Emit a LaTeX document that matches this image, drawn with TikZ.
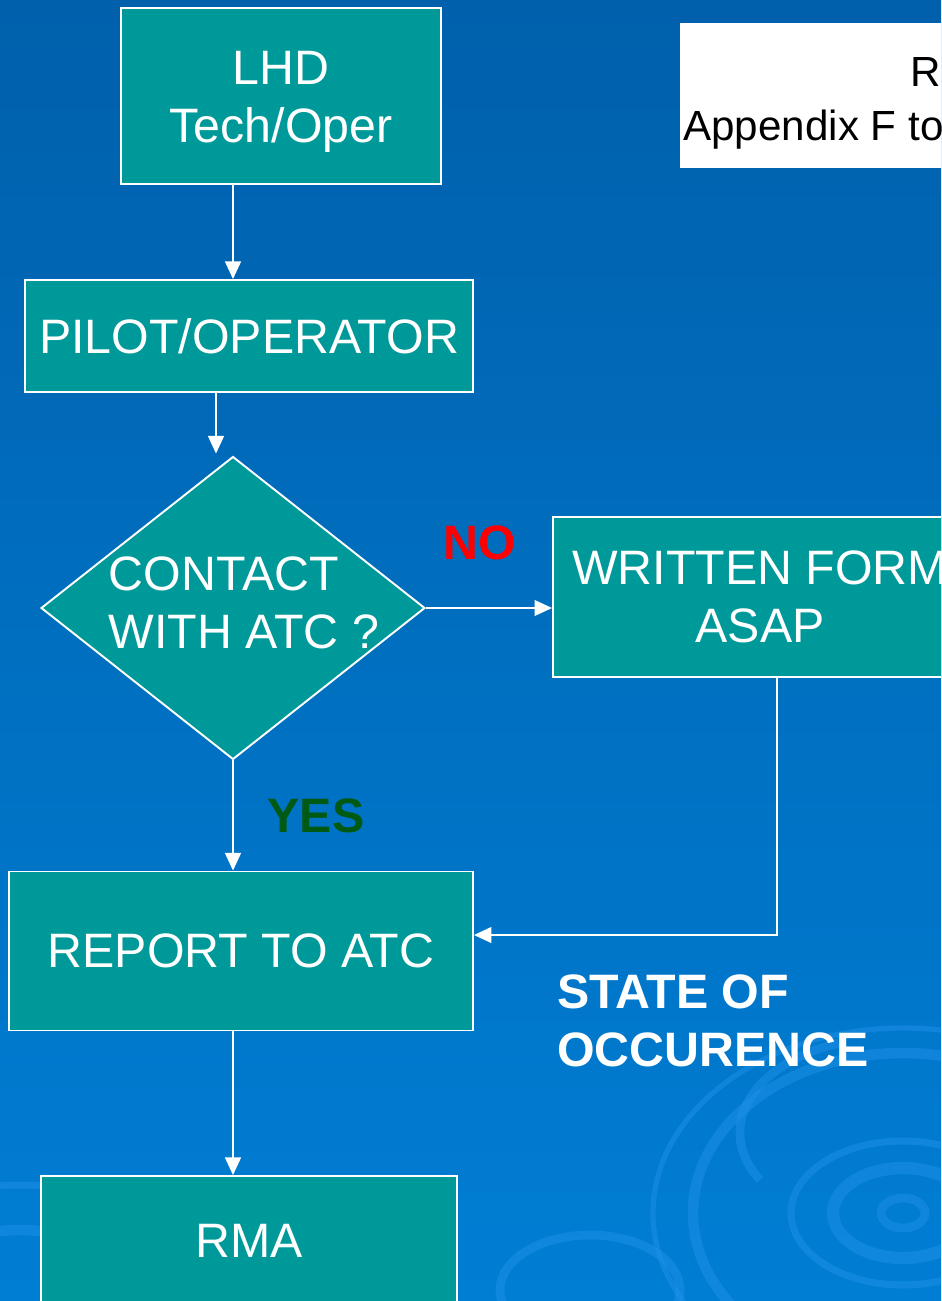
\documentclass[tikz,border=0pt]{standalone}
\usepackage{fontspec}
\setmainfont{Liberation Sans}
\usetikzlibrary{shapes.geometric, arrows.meta, positioning, calc}

\definecolor{boxteal}{RGB}{0,153,153}
\definecolor{bgtop}{RGB}{0,96,172}
\definecolor{bgbottom}{RGB}{0,126,212}
\definecolor{ring}{RGB}{30,145,232}
\definecolor{yesgreen}{RGB}{0,90,20}

\begin{document}
\begin{tikzpicture}[
    x=0.02cm, y=-0.02cm,
    box/.style      ={rectangle, draw=white, line width=1.1pt, fill=boxteal, text=white, align=center, inner sep=0pt, font=\fontsize{27.5}{33}\selectfont},
    decision/.style ={diamond, draw=white, line width=1.1pt, fill=boxteal, inner sep=0pt},
    note/.style     ={rectangle, fill=white, inner sep=0pt},
    answer/.style   ={inner sep=0pt, font=\bfseries\fontsize{27.5}{33}\selectfont},
    arrow/.style    ={-{Triangle[length=10pt,width=9pt]}, white, line width=1.1pt},
    swirl/.style    ={ring, opacity=0.5},
    ]

    % --- Background ---
    \useasboundingbox (0,0) rectangle (941,1301);
    \clip (0,0) rectangle (941,1301);
    \shade[top color=bgtop, bottom color=bgbottom] (0,0) rectangle (941,1301);
    \draw[swirl, line width=5pt] (903,1213) ellipse [x radius=22, y radius=15];
    \draw[swirl, line width=7pt] (903,1213) ellipse [x radius=70, y radius=45];
    \draw[swirl, line width=4pt] (903,1213) ellipse [x radius=112, y radius=72];
    \draw[swirl, line width=5pt] (760,1180) arc [start angle=150, end angle=250, x radius=150, y radius=95];
    \draw[swirl, line width=6pt] (903,1213) ellipse [x radius=210, y radius=160];
    \draw[swirl, line width=3pt] (903,1213) ellipse [x radius=250, y radius=185];
    \draw[swirl, line width=6pt] (20,1300) ellipse [x radius=110, y radius=70];
    \draw[swirl, line width=4pt] (20,1300) ellipse [x radius=180, y radius=115];
    \draw[swirl, line width=5pt] (590,1290) ellipse [x radius=90, y radius=55];

    % --- Reference note (cut by the page edge) ---
    \node[note, anchor=north west, minimum width=9cm, minimum height=2.9cm] (ref) at (680,23) {};
    \node[anchor=base west, inner sep=0pt, font=\fontsize{24}{29}\selectfont] (refA) at (910,87) {R};
    \node[anchor=base west, inner sep=0pt, font=\fontsize{24}{29}\selectfont] (refB) at (683,140) {Appendix F to};

    % --- Flow boxes ---
    \node[box, minimum width=6.4cm, minimum height=3.52cm] (lhd) at (281,96) {\rule{0pt}{26pt}LHD\\Tech/Oper};
    \node[box, minimum width=8.96cm, minimum height=2.24cm] (pilot) at (249,336) {PILOT/OPERATOR};
    \node[decision, minimum width=7.68cm, minimum height=6.06cm,
          label={[text=white, align=left, xshift=0.22cm, yshift=0.1cm, font=\fontsize{27.5}{33}\selectfont]center:CONTACT\\WITH ATC ?}] (contact) at (233,608) {};
    \node[box, minimum width=8.28cm, minimum height=3.2cm] (written) at (760,597) {WRITTEN FORM\\ASAP};
    \node[box, minimum width=9.28cm, minimum height=3.18cm] (report) at (241,951) {REPORT TO ATC};
    \node[box, minimum width=8.32cm, minimum height=2.6cm] (rma) at (249,1241) {RMA};

    % --- Answers ---
    \node[answer, text=red] (no) at (480,543) {NO};
    \node[answer, text=yesgreen] (yes) at (316,816) {YES};
    \node[answer, text=white, align=left, anchor=west] (state) at (557,1021) {STATE OF\\OCCURENCE};

    % --- Connections ---
    \draw[arrow] (lhd.south -| contact.north) -- (pilot.north -| contact.north);
    \draw[arrow] ([xshift=-0.34cm]pilot.south -| contact.north) -- ([xshift=-0.34cm,yshift=0.04cm]contact.north);
    \draw[arrow] (contact.east) -- (written.west |- contact.east);
    \draw[arrow] (contact.south) -- (report.north -| contact.south);
    \draw[arrow] ([xshift=0.34cm]written.south) |- ([yshift=0.32cm]report.east);
    \draw[arrow] ([xshift=-0.16cm]report.south) -- ([xshift=-0.16cm]report.south |- rma.north);

\end{tikzpicture}
\end{document}
